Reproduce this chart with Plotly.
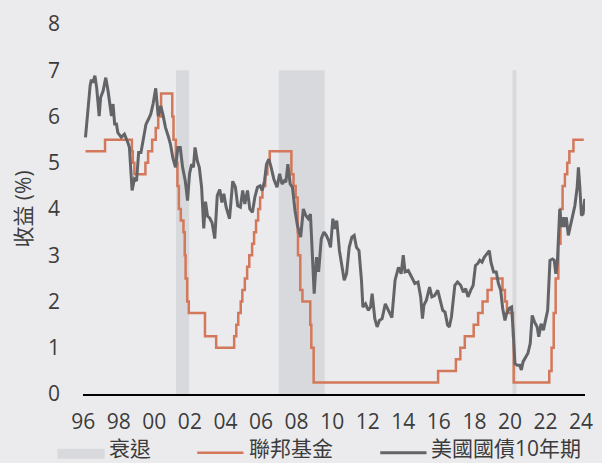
import plotly.graph_objects as go

# ---------------- data ----------------
# US 10-year Treasury yield (%) (decimal years)
t10_years = [
    1996.13, 1996.24, 1996.39, 1996.46, 1996.54, 1996.66, 1996.76, 1996.90, 1996.98,
    1997.12, 1997.27, 1997.40, 1997.49, 1997.59, 1997.68, 1997.77, 1997.87, 1997.95,
    1998.14, 1998.32, 1998.51, 1998.60, 1998.75, 1998.88, 1999.00, 1999.12, 1999.25,
    1999.38, 1999.53, 1999.67, 1999.80, 1999.93, 2000.08, 2000.22, 2000.36, 2000.48,
    2000.63, 2000.78, 2000.91, 2001.04, 2001.19, 2001.33, 2001.46, 2001.59, 2001.74,
    2001.87, 2001.98, 2002.10, 2002.20, 2002.29, 2002.42, 2002.53, 2002.66, 2002.78,
    2002.88, 2002.99, 2003.12, 2003.25, 2003.40, 2003.54, 2003.68, 2003.80, 2003.91,
    2004.04, 2004.23, 2004.41, 2004.56, 2004.69, 2004.84, 2004.97, 2005.09, 2005.24,
    2005.37, 2005.52, 2005.65, 2005.80, 2005.94, 2006.07, 2006.20, 2006.31, 2006.44,
    2006.57, 2006.72, 2006.90, 2007.05, 2007.18, 2007.31, 2007.40, 2007.51, 2007.64,
    2007.77, 2007.91, 2008.05, 2008.23, 2008.38, 2008.52, 2008.66, 2008.78, 2008.89,
    2008.99, 2009.12, 2009.24, 2009.39, 2009.54, 2009.67, 2009.80, 2009.91, 2010.04,
    2010.15, 2010.26, 2010.41, 2010.54, 2010.68, 2010.81, 2010.96, 2011.11, 2011.24,
    2011.37, 2011.51, 2011.65, 2011.73, 2011.88, 2012.03, 2012.16, 2012.25, 2012.40,
    2012.53, 2012.66, 2012.81, 2012.99, 2013.17, 2013.36, 2013.54, 2013.73, 2013.88,
    2014.00, 2014.10, 2014.28, 2014.47, 2014.65, 2014.83, 2014.98, 2015.08, 2015.16,
    2015.30, 2015.48, 2015.61, 2015.76, 2015.94, 2016.09, 2016.22, 2016.35, 2016.49,
    2016.59, 2016.71, 2016.90, 2017.05, 2017.23, 2017.38, 2017.51, 2017.64, 2017.79,
    2017.93, 2018.06, 2018.19, 2018.30, 2018.43, 2018.56, 2018.71, 2018.84, 2018.93,
    2019.08, 2019.23, 2019.35, 2019.48, 2019.59, 2019.72, 2019.81, 2019.96, 2020.09,
    2020.18, 2020.28, 2020.41, 2020.55, 2020.64, 2020.74, 2020.89, 2021.01, 2021.14,
    2021.25, 2021.38, 2021.53, 2021.62, 2021.75, 2021.88, 2021.99, 2022.12, 2022.25,
    2022.40, 2022.49, 2022.58, 2022.67, 2022.80, 2022.90, 2022.99, 2023.08, 2023.17,
    2023.28, 2023.41, 2023.54, 2023.65, 2023.78, 2023.85, 2023.93, 2024.02, 2024.11,
    2024.21,
]
t10_values = [
    5.55, 6.08, 6.66, 6.80, 6.73, 6.88, 6.62, 6.01, 6.41,
    6.55, 6.84, 6.55, 6.34, 6.01, 6.27, 5.84, 5.84, 5.65,
    5.55, 5.62, 5.44, 5.33, 4.40, 4.65, 4.61, 5.22, 5.22,
    5.55, 5.83, 5.94, 6.05, 6.27, 6.61, 6.01, 6.23, 6.05,
    5.76, 5.58, 5.40, 5.11, 4.90, 5.33, 5.33, 4.90, 4.61,
    4.18, 4.76, 4.97, 4.90, 5.33, 5.04, 4.90, 4.47, 3.58,
    4.16, 3.85, 3.80, 3.70, 3.36, 4.29, 4.42, 4.14, 4.33,
    4.04, 3.79, 4.60, 4.47, 4.07, 4.04, 4.40, 4.11, 4.40,
    4.00, 3.93, 4.25, 4.47, 4.50, 4.40, 4.61, 4.97, 5.08,
    4.90, 4.65, 4.47, 4.76, 4.54, 4.61, 4.58, 4.97, 4.54,
    4.47, 3.97, 3.64, 3.39, 4.00, 3.86, 3.79, 3.89, 2.89,
    2.17, 2.96, 2.64, 3.36, 3.50, 3.43, 3.32, 3.17, 3.79,
    3.57, 3.75, 3.10, 2.74, 2.46, 2.60, 3.17, 3.39, 3.43,
    3.17, 3.10, 2.46, 1.88, 1.95, 1.81, 1.88, 2.17, 1.63,
    1.45, 1.59, 1.63, 1.95, 1.81, 1.65, 2.46, 2.74, 2.60,
    3.00, 2.64, 2.67, 2.53, 2.39, 2.42, 2.10, 1.63, 1.92,
    2.03, 2.31, 2.10, 2.13, 2.24, 1.99, 1.81, 1.77, 1.49,
    1.45, 1.67, 2.35, 2.42, 2.35, 2.20, 2.28, 2.10, 2.24,
    2.35, 2.78, 2.82, 2.89, 2.85, 2.96, 3.03, 3.10, 2.85,
    2.64, 2.64, 2.39, 2.24, 1.85, 1.59, 1.74, 1.85, 1.88,
    1.38, 0.66, 0.62, 0.62, 0.52, 0.70, 0.80, 0.88, 1.09,
    1.70, 1.56, 1.45, 1.24, 1.52, 1.38, 1.59, 1.81, 2.89,
    2.92, 2.89, 2.60, 2.89, 4.00, 3.61, 3.82, 3.61, 3.82,
    3.43, 3.68, 3.89, 4.07, 4.47, 4.90, 4.47, 3.86, 3.89,
    4.22,
]

# Fed funds target rate (%), step changes (decimal years)
ff_years = [
    1996.13, 1997.23, 1998.74, 1998.79, 1998.88, 1999.50, 1999.65, 1999.88, 2000.08,
    2000.22, 2000.38, 2001.01, 2001.08, 2001.21, 2001.30, 2001.38, 2001.49, 2001.64,
    2001.71, 2001.76, 2001.85, 2001.94, 2002.85, 2003.48, 2004.49, 2004.61, 2004.72,
    2004.86, 2004.95, 2005.09, 2005.22, 2005.34, 2005.50, 2005.61, 2005.72, 2005.84,
    2005.95, 2006.08, 2006.24, 2006.36, 2006.49, 2007.71, 2007.83, 2007.95, 2008.06,
    2008.08, 2008.21, 2008.33, 2008.77, 2008.83, 2008.96, 2015.96, 2016.96, 2017.21,
    2017.46, 2017.96, 2018.21, 2018.46, 2018.74, 2018.97, 2019.58, 2019.72, 2019.83,
    2020.17, 2020.21, 2022.21, 2022.34, 2022.46, 2022.57, 2022.72, 2022.84, 2022.96,
    2023.09, 2023.22, 2023.34, 2023.57, 2024.15,
]
ff_values = [
    5.25, 5.50, 5.25, 5.00, 4.75, 5.00, 5.25, 5.50, 5.75,
    6.00, 6.50, 6.00, 5.50, 5.00, 4.50, 4.00, 3.75, 3.50,
    3.00, 2.50, 2.00, 1.75, 1.25, 1.00, 1.25, 1.50, 1.75,
    2.00, 2.25, 2.50, 2.75, 3.00, 3.25, 3.50, 3.75, 4.00,
    4.25, 4.50, 4.75, 5.00, 5.25, 4.75, 4.50, 4.25, 3.50,
    3.00, 2.25, 2.00, 1.50, 1.00, 0.25, 0.50, 0.75, 1.00,
    1.25, 1.50, 1.75, 2.00, 2.25, 2.50, 2.25, 2.00, 1.75,
    1.25, 0.25, 0.50, 1.00, 1.75, 2.50, 3.25, 4.00, 4.50,
    4.75, 5.00, 5.25, 5.50, 5.50,
]

# Recession periods (decimal years) and shading height
rec_start = [2001.22, 2007.00, 2020.14]
rec_end = [2001.96, 2009.58, 2020.36]
rec_top = 7

tick_years = [1996, 1998, 2000, 2002, 2004, 2006, 2008, 2010,
              2012, 2014, 2016, 2018, 2020, 2022, 2024]
tick_labels = ["96", "98", "00", "02", "04", "06", "08", "10",
               "12", "14", "16", "18", "20", "22", "24"]

legend_names = ["衰退", "聯邦基金", "美國國債10年期"]

# ---------------- styling ----------------
BG = "#EBEBEE"
REC_COLOR = "#D8D9DC"
FF_COLOR = "#D3785A"
T10_COLOR = "#636467"
TEXT = "#3C3C3C"
FONT = "Open Sans, Noto Sans CJK TC, sans-serif"

rec_x, rec_y = [], []
for s, e in zip(rec_start, rec_end):
    rec_x += [s, s, e, e, s, None]
    rec_y += [0, rec_top, rec_top, 0, 0, None]

fig = go.Figure()
fig.add_trace(go.Scatter(x=rec_x, y=rec_y, mode="none", fill="toself",
                         fillcolor=REC_COLOR, name=legend_names[0],
                         showlegend=False, hoverinfo="skip"))
fig.add_trace(go.Scatter(x=ff_years, y=ff_values, mode="lines",
                         line=dict(color=FF_COLOR, width=2.5, shape="hv"),
                         name=legend_names[1], showlegend=False))
fig.add_trace(go.Scatter(x=t10_years, y=t10_values, mode="lines",
                         line=dict(color=T10_COLOR, width=3),
                         name=legend_names[2], showlegend=False))

# plot-area geometry (pixels) for the hand-placed legend
L, R, T, B = 83, 9, 23, 69
W, H = 602, 463
pw, ph = W - L - R, H - T - B


def px(x):
    return (x - L) / pw


def py(y):
    return (H - B - y) / ph


legend_y = 448
fig.add_shape(type="rect", xref="paper", yref="paper",
              x0=px(57), x1=px(105), y0=py(459), y1=py(449),
              fillcolor=REC_COLOR, line_width=0)
fig.add_shape(type="line", xref="paper", yref="paper",
              x0=px(199), x1=px(246), y0=py(453), y1=py(453),
              line=dict(color=FF_COLOR, width=2.5))
fig.add_shape(type="line", xref="paper", yref="paper",
              x0=px(385), x1=px(432), y0=py(453), y1=py(453),
              line=dict(color=T10_COLOR, width=3))
for name, xpos in zip(legend_names, [107, 250, 435]):
    fig.add_annotation(text=name, xref="paper", yref="paper",
                       x=px(xpos), y=py(legend_y), xanchor="left",
                       yanchor="middle", showarrow=False,
                       font=dict(family=FONT, size=21, color=TEXT))

fig.update_layout(
    width=W, height=H,
    margin=dict(l=L, r=R, t=T, b=B),
    paper_bgcolor=BG, plot_bgcolor=BG,
    font=dict(family=FONT, size=21, color=TEXT),
    showlegend=False,
    xaxis=dict(range=[1995.99, 2024.22], tickvals=tick_years,
               ticktext=tick_labels, showgrid=False, zeroline=False,
               showline=True, linecolor="#000000", linewidth=1.5,
               ticks="", ticklabelstandoff=8, fixedrange=True),
    yaxis=dict(range=[0, 8], dtick=1, showgrid=False, zeroline=False,
               showline=False, ticks="", ticklabelstandoff=22,
               title=dict(text="收益 (%)", standoff=10,
                          font=dict(family=FONT, size=21, color=TEXT)),
               fixedrange=True),
)

fig.write_html("out.html",
               config={"displayModeBar": False},
               post_script="document.body.style.margin='0';"
                           "document.body.style.background='%s';" % BG)
